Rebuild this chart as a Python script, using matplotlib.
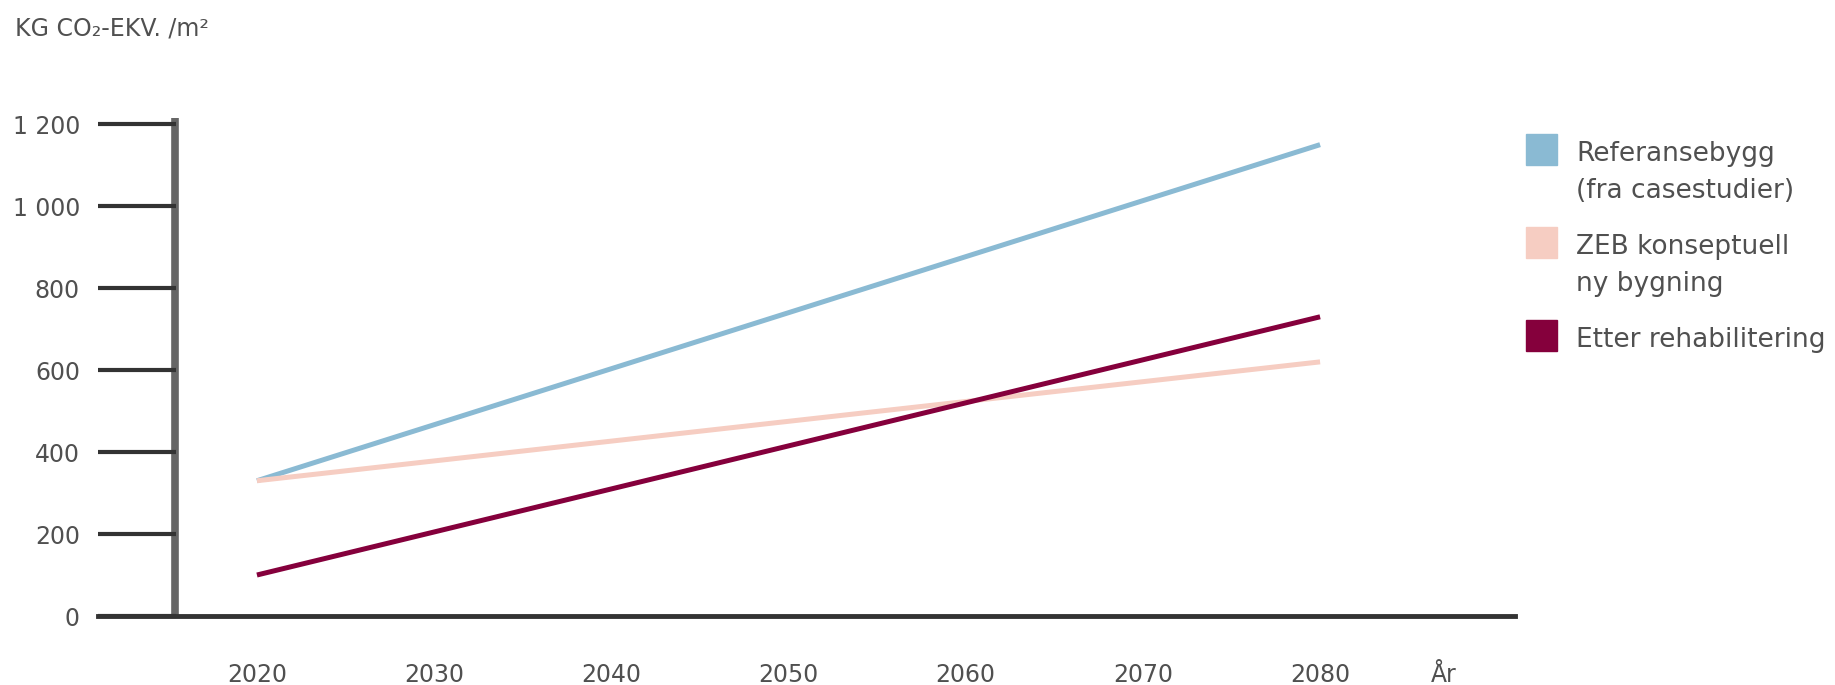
import matplotlib.pyplot as plt
import matplotlib.patches as patches
import numpy as np

# data
years = [2020, 2080]
referanse = [330, 1150]       # Referansebygg (fra casestudier)
zeb = [330, 620]              # ZEB konseptuell ny bygning
rehab = [100, 730]            # Etter rehabilitering

x_ticks = [2020, 2030, 2040, 2050, 2060, 2070, 2080]
x_labels = ['2020', '2030', '2040', '2050', '2060', '2070', '2080']
y_ticks = [0, 200, 400, 600, 800, 1000, 1200]
y_labels = ['0', '200', '400', '600', '800', '1 000', '1 200']

series_names = ['Referansebygg\n(fra casestudier)', 'ZEB konseptuell\nny bygning', 'Etter rehabilitering']
series_colors = ['#8abad3', '#f6cdc2', '#85003c']

W, H = 1835, 685
txt_color = '#505050'
fs = 17

fig = plt.figure(figsize=(W / 100, H / 100), dpi=100)
# axes box in pixels: x 98..1515, y 118..616
ax = fig.add_axes([98 / W, (H - 616) / H, (1515 - 98) / W, (616 - 118) / H])
ax.set_xlim(2011.03, 2091.0)
ax.set_ylim(0, 1215)

for vals, c in zip([referanse, zeb, rehab], series_colors):
    ax.plot(years, vals, color=c, lw=3.6, solid_capstyle='butt')

for s in ['top', 'right', 'left']:
    ax.spines[s].set_visible(False)
ax.spines['bottom'].set_color('#333333')
ax.spines['bottom'].set_linewidth(3.5)

# the thick grey vertical axis
ax.axvline(2015.4, ymin=0, ymax=1, color='#666666', lw=5.5, zorder=1)

ax.set_yticks(y_ticks)
ax.set_yticklabels(y_labels)
ax.tick_params(axis='y', direction='in', length=56, width=3, color='#333333',
               pad=13, labelsize=fs, labelcolor=txt_color)
ax.set_xticks(x_ticks)
ax.set_xticklabels(x_labels)
ax.tick_params(axis='x', length=0, pad=34, labelsize=fs, labelcolor=txt_color)

ax.annotate('År', xy=(2087, 0), xycoords='data', xytext=(0, -34), textcoords='offset points',
            ha='center', va='top', fontsize=fs, color=txt_color)

fig.text(15 / W, 1 - 28 / H, 'KG CO₂-EKV. /m²', fontsize=fs, color=txt_color,
         ha='left', va='center')

# legend
for i, (name, c) in enumerate(zip(series_names, series_colors)):
    top = 134 + i * 93
    fig.add_artist(patches.Rectangle((1526 / W, 1 - (top + 31) / H), 31 / W, 31 / H,
                                     transform=fig.transFigure, color=c))
    fig.text(1576 / W, 1 - (top + 20) / H, name.split('\n')[0], fontsize=19,
             color=txt_color, ha='left', va='center')
    if '\n' in name:
        fig.text(1576 / W, 1 - (top + 57) / H, name.split('\n')[1], fontsize=19,
                 color=txt_color, ha='left', va='center')

fig.savefig('out.png', dpi=100)
